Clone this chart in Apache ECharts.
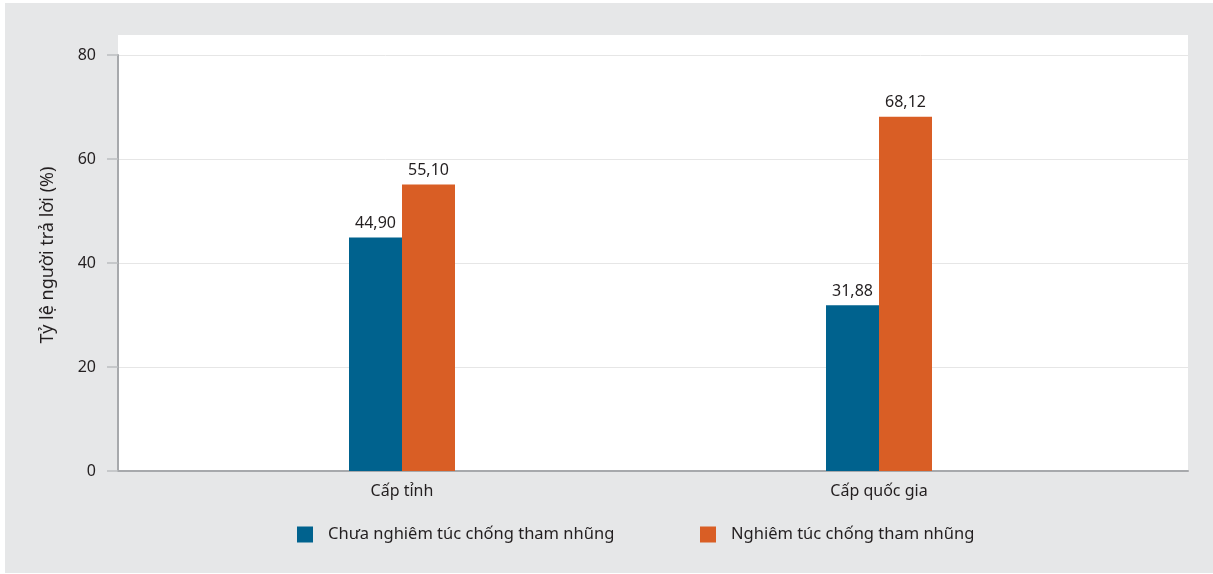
<!DOCTYPE html>
<html>
<head>
<meta charset="utf-8">
<script src="https://cdn.jsdelivr.net/npm/echarts@6/dist/echarts.min.js"></script>
<style>
  html, body { margin: 0; padding: 0; background: #ffffff; }
  #chart { width: 1213px; height: 574px; }
</style>
</head>
<body>
<div id="chart"></div>
<script>
// Survey shares (%) by government level
const categories = ['Cấp tỉnh', 'Cấp quốc gia'];
const seriesNames = ['Chưa nghiêm túc chống tham nhũng', 'Nghiêm túc chống tham nhũng'];
const notSerious = [44.90, 31.88];
const serious = [55.10, 68.12];
const yTicks = [0, 20, 40, 60, 80];
const yAxisTitle = 'Tỷ lệ người trả lời (%)';

const FONT = '"Noto Sans", sans-serif';
const TEXT = '#231f20';
const BLUE = '#00628e';
const ORANGE = '#d95e25';
const AXIS = '#a7a9ac';

const fmt = v => v.toFixed(2).replace('.', ',');

const chart = echarts.init(document.getElementById('chart'), null, { renderer: 'canvas' });

const yMin = yTicks[0];
const yMax = yTicks[yTicks.length - 1];
const yStep = yTicks[1] - yTicks[0];

const legendBase = {
  padding: 0, itemWidth: 16, itemHeight: 16, icon: 'rect',
  itemStyle: { borderWidth: 0 },
  textStyle: { color: TEXT, fontSize: 16.5, fontFamily: FONT, padding: [0, 0, 0, 10] }
};

chart.setOption({
  animation: false,
  backgroundColor: '#ffffff',
  textStyle: { fontFamily: FONT },
  graphic: [
    { type: 'rect', z: -20, silent: true,
      shape: { x: 5, y: 3, width: 1208, height: 570 },
      style: { fill: '#e6e7e8' } },
    { type: 'rect', z: -10, silent: true,
      shape: { x: 118, y: 35, width: 1070, height: 436 },
      style: { fill: '#ffffff' } },
    { type: 'text', z: 5, silent: true,
      x: 48, y: 255, rotation: Math.PI / 2,
      style: { text: yAxisTitle, fontFamily: FONT, fontSize: 18, fill: TEXT,
               align: 'center', verticalAlign: 'middle' } }
  ],
  grid: [
    // frame: axes, ticks, gridlines
    { left: 118, right: 25, top: 55, bottom: 103, containLabel: false },
    // bars and category labels
    { left: 163.5, right: 95.5, top: 55, bottom: 103, containLabel: false }
  ],
  xAxis: [
    { gridIndex: 0, type: 'category', data: categories,
      axisLine: { show: true, lineStyle: { color: AXIS, width: 2 } },
      axisTick: { show: false }, axisLabel: { show: false }, splitLine: { show: false } },
    { gridIndex: 1, type: 'category', data: categories,
      axisLine: { show: false }, axisTick: { show: false },
      axisLabel: { show: true, color: TEXT, fontSize: 16, fontFamily: FONT, margin: 12 } }
  ],
  yAxis: [
    { gridIndex: 0, type: 'value', min: yMin, max: yMax, interval: yStep,
      axisLine: { show: true, lineStyle: { color: AXIS, width: 2 } },
      axisTick: { show: true, length: 11, lineStyle: { color: '#bcbec0', width: 1.5 } },
      axisLabel: { color: TEXT, fontSize: 16, fontFamily: FONT, margin: 22 },
      splitLine: { show: true, lineStyle: { color: '#e6e6e6', width: 1 } } },
    { gridIndex: 1, type: 'value', min: yMin, max: yMax, interval: yStep, show: false,
      splitLine: { show: false } }
  ],
  legend: [
    Object.assign({ data: [seriesNames[0]], left: 297, top: 526 }, legendBase),
    Object.assign({ data: [seriesNames[1]], left: 700, top: 526 }, legendBase)
  ],
  series: [
    { name: seriesNames[0], type: 'bar', xAxisIndex: 1, yAxisIndex: 1,
      data: notSerious, barWidth: 53, barGap: '0%',
      itemStyle: { color: BLUE },
      label: { show: true, position: 'top', distance: 6, color: TEXT, fontSize: 16,
               fontFamily: FONT, formatter: p => fmt(p.value) } },
    { name: seriesNames[1], type: 'bar', xAxisIndex: 1, yAxisIndex: 1,
      data: serious, barWidth: 53, barGap: '0%',
      itemStyle: { color: ORANGE },
      label: { show: true, position: 'top', distance: 6, color: TEXT, fontSize: 16,
               fontFamily: FONT, formatter: p => fmt(p.value) } }
  ]
});
</script>
</body>
</html>
